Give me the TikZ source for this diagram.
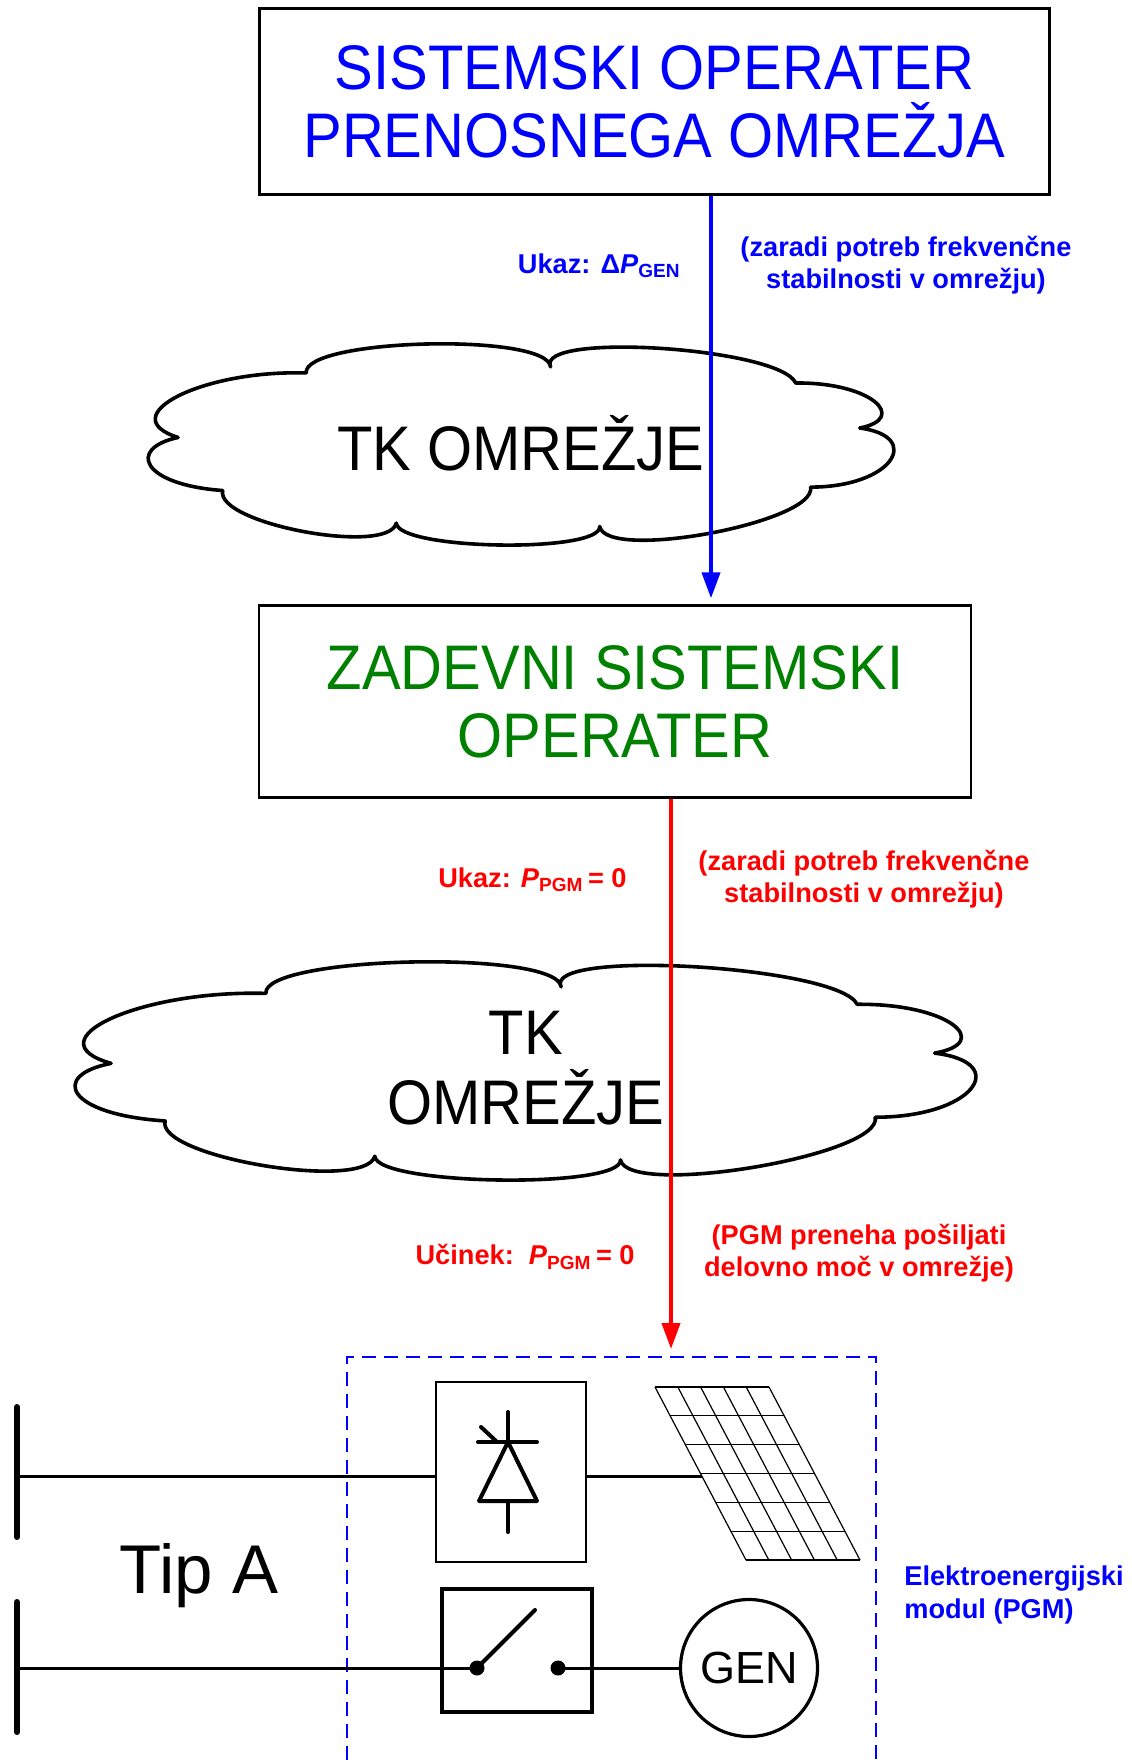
\documentclass[tikz,border=0pt]{standalone}
\usepackage{fontspec}
\setmainfont{Liberation Sans}
\newfontfamily\narrowsans[FakeStretch=0.92]{Liberation Sans}
\usepackage{xcolor}
\usetikzlibrary{arrows,shapes,positioning,fit,arrows.meta,backgrounds,calc}
\definecolor{darkgreen}{RGB}{0,128,0}

\tikzset{
  opbox/.style={draw, line width=1.2pt, align=center, font=\narrowsans\fontsize{31.5}{34}\selectfont},
  cloudtext/.style={align=center, font=\narrowsans\fontsize{31.5}{35}\selectfont},
  note/.style={align=center, inner sep=0pt, font=\bfseries\fontsize{13.6}{16.3}\selectfont},
  sig/.style={line width=2pt, -{Triangle[length=13pt,width=9pt]}},
  wire/.style={line width=1.5pt},
  bus/.style={line width=3pt, line cap=round},
  sym/.style={line width=2pt, line cap=round, line join=round},
  dot/.style={circle, fill, inner sep=0pt, minimum size=7.5pt},
  pics/tkcloud/.style={code={
    \draw[line width=1.8pt, line join=round, fill=white] (0.211,0.144)
      .. controls (0.207,-0.028) and (0.535,-0.058) .. (0.539,0.114)
      .. controls (0.518,-0.062) and (0.847,0.018) .. (0.868,0.194)
      .. controls (0.97,0.19) and (1.02,0.37) .. (0.954,0.418)
      .. controls (1.04,0.46) and (0.998,0.712) .. (0.888,0.712)
      .. controls (0.897,0.887) and (0.614,1.083) .. (0.605,0.908)
      .. controls (0.607,1.042) and (0.334,1.025) .. (0.332,0.891)
      .. controls (0.321,1.055) and (0.088,0.893) .. (0.099,0.729)
      .. controls (-0.01,0.70) and (-0.03,0.52) .. (0.039,0.465)
      .. controls (-0.05,0.36) and (0.07,0.13) .. cycle;
  }}
}

\begin{document}
\begin{tikzpicture}[x=0.5pt, y=-0.5pt]
\useasboundingbox (0,0) rectangle (1131,1760);

\node[opbox, text=blue, minimum width=395pt, minimum height=93pt] (tso) at (654.5,101.5) {SISTEMSKI OPERATER\\PRENOSNEGA OMREŽJA};

\pic[xscale=745, yscale=201] at (149,344) {tkcloud};
\node[cloudtext] (tk1) at (521,443) {TK OMREŽJE};

\node[opbox, text=darkgreen, minimum width=356pt, minimum height=96pt] (zso) at (615,701.5) {ZADEVNI SISTEMSKI\\OPERATER};

\pic[xscale=900, yscale=218] at (76,962) {tkcloud};
\node[cloudtext] (tk2) at (526,1068) {TK\\OMREŽJE};

% ukaz od TSO do zadevnega SO
\coordinate (bluex) at (711,0);
\draw[sig, blue, shorten >=3pt] (tso.south -| bluex) -- (zso.north -| bluex);
\node[note, text=blue, anchor=east] (ukazgen) at (681,266) {Ukaz: Δ\textit{P}\textsubscript{GEN}};
\node[note, text=blue] (razlog1) at (906,265) {(zaradi potreb frekvenčne\\stabilnosti v omrežju)};

% ukaz do PGM
\coordinate (pgmin) at (671,1357);
\draw[sig, red, shorten >=4pt] (zso.south -| pgmin) -- (pgmin);
\node[note, text=red, anchor=east] (ukazpgm) at (627,880) {Ukaz: \textit{P}\textsubscript{PGM}\,= 0};
\node[note, text=red] (razlog2) at (864,879) {(zaradi potreb frekvenčne\\stabilnosti v omrežju)};
\node[note, text=red, anchor=east] (ucinek) at (635,1257) {Učinek:\ \ \textit{P}\textsubscript{PGM}\,= 0};
\node[note, text=red] (razlog3) at (859,1253) {(PGM preneha pošiljati\\delovno moč v omrežje)};

\draw[blue, line width=1.3pt, dash pattern=on 7pt off 4pt] (347,1760) |- (pgmin) -| (876,1760);
\node[note, text=blue, align=left, anchor=west] (pgmlbl) at (904,1595) {Elektroenergijski\\modul (PGM)};

% zbiralke
\draw[bus] (17,1407) -- (17,1537);
\draw[bus] (17,1602) -- (17,1732);
\coordinate (bus1) at (17,1476);
\coordinate (bus2) at (17,1668);
\node[font=\fontsize{34.5}{40}\selectfont, anchor=base] (tipa) at (199,1593) {Tip A};

% pretvornik in PV
\node[draw, line width=1pt, minimum width=75pt, minimum height=90pt] (conv) at (511,1472) {};
\draw[sym] (508,1412) -- (508,1442);
\draw[sym] (478,1442) -- (537,1442);
\draw[sym] (508,1442) -- (537,1501) -- (479,1501) -- cycle;
\draw[sym] (508,1501) -- (508,1532);
\draw[sym] (481,1427) -- (496,1441);
\draw[wire] (bus1) -- (bus1 -| conv.west);
\coordinate (pv) at (702,1476);
\draw[wire] (conv.east |- pv) -- (pv);
\foreach \i in {0,...,5}
  \draw[line width=0.6pt] ({655+22.8*\i},1387) -- ({746+22.8*\i},1560);
\foreach \j in {0,...,6}
  \draw[line width=0.6pt] ({655+91*\j/6},{1387+173*\j/6}) -- ({769+91*\j/6},{1387+173*\j/6});

% stikalo in generator
\node[draw, line width=1.7pt, minimum width=75pt, minimum height=61.5pt] (sw) at (517,1650.5) {};
\node[dot] (swa) at (477,1668) {};
\node[dot] (swb) at (558,1668) {};
\draw[sym] (swa.center) -- (535,1610);
\draw[wire] (bus2) -- (swa.center);
\node[draw, circle, line width=1.6pt, minimum size=68.5pt, inner sep=0pt, font=\fontsize{22.5}{27}\selectfont] (gen) at (749,1668) {GEN};
\draw[wire] (swb.center) -- (gen.west);
\end{tikzpicture}
\end{document}
